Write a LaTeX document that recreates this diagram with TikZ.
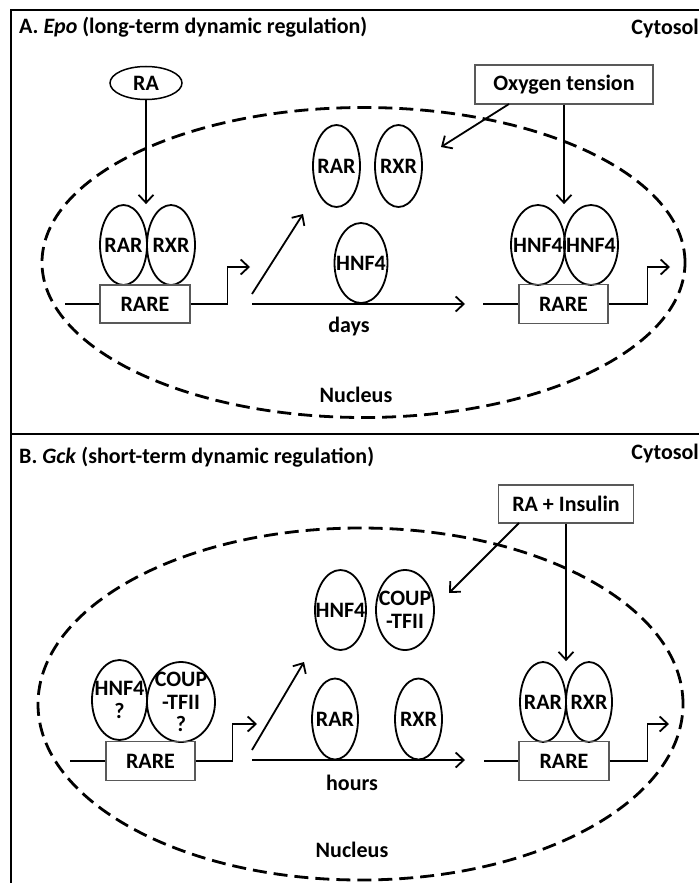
\documentclass[tikz,border=0pt]{standalone}
\usepackage{fontspec}
\setmainfont{Carlito}
\usetikzlibrary{shapes.geometric,arrows.meta}
\begin{document}
\begin{tikzpicture}[x=1pt,y=-1pt,
  font=\fontsize{22}{23}\selectfont\bfseries,
  prot/.style={ellipse, draw, line width=1.8pt, inner sep=0pt, minimum height=80pt, minimum width=#1},
  gene/.style={rectangle, draw=black!65, line width=1.1pt, inner sep=0pt, minimum width=90pt, minimum height=38pt},
  arr/.style={-{Straight Barb[length=8pt,width=15pt]}, line width=1.8pt},
  ln/.style={line width=1.8pt},
  nuc/.style={ellipse, draw, line width=2.8pt, dash pattern=on 14pt off 7pt, inner sep=0pt},
  frame/.style={line width=2.5pt},
  txt/.style={inner sep=0pt, align=center, font=\fontsize{22}{22.5}\selectfont\bfseries}]
\useasboundingbox (0,0) rectangle (699,883);
% frame
\draw[frame] (11,883) -- (11,10) -- (699,10);
\draw[frame] (11,434) -- (699,434);

% ---------- Panel A ----------
\node[anchor=base west, inner sep=0pt] (titleA) at (19,34) {A. \textit{Epo} (long-term dynamic regulation)};
\node[anchor=base east, inner sep=0pt] (cytA) at (699,35) {Cytosol};
\node[nuc, minimum width=643pt, minimum height=310pt] (nucA) at (363.5,262.5) {};
\node[txt] (nucAt) at (356,395) {Nucleus};

\node[ellipse, draw, line width=1.5pt, inner sep=0pt, minimum width=72pt, minimum height=33pt] (ra) at (146,83) {RA};
\node[prot=47pt] (rarA1) at (123.5,245) {};
\node[txt] (trarA1) at (rarA1) {RAR};
\node[prot=48pt] (rxrA1) at (171,245) {};
\node[txt] (trxrA1) at (rxrA1) {RXR};
\node[gene] (rareA1) at (145,304) {RARE};
\draw[arr] (ra.south) -- (ra.south |- rarA1.north);

\coordinate (lA0) at (65,304);
\coordinate (pA1) at (250,267);
\draw[ln] (lA0) -- (rareA1.west);
\draw[arr] (rareA1.east) -- ++(37,0) |- (pA1);

\coordinate (sA0) at (252,294);
\coordinate (sA1) at (303,214);
\draw[arr] (sA0) -- (sA1);
\coordinate (dA0) at (252,304);
\coordinate (dA1) at (465,304);
\draw[arr] (dA0) -- (dA1);
\node[txt] (daysA) at (349,327) {days};

\node[prot=47pt, minimum height=82pt] (rarA2) at (336.5,166) {};
\node[txt] (trarA2) at (rarA2) {RAR};
\node[prot=47pt, minimum height=82pt] (rxrA2) at (398.5,166) {};
\node[txt] (trxrA2) at (rxrA2) {RXR};
\node[prot=53pt] (hnfA0) at (361,263) {};
\node[txt] (thnfA0) at (hnfA0) {HNF4};

\node[gene, minimum width=178pt, minimum height=39pt] (oxy) at (564,84.5) {Oxygen tension};
\coordinate (oxd0) at (509,104);
\coordinate (oxd1) at (441,147);
\draw[arr] (oxd0) -- (oxd1);

\node[prot=54pt] (hnfA1) at (538,245) {};
\node[txt] (thnfA1) at (hnfA1) {HNF4};
\node[prot=54pt] (hnfA2) at (591,245) {};
\node[txt] (thnfA2) at (hnfA2) {HNF4};
\node[gene, minimum width=89pt, minimum height=39pt] (rareA2) at (563.5,304) {RARE};
\draw[arr] (oxy.south) -- (oxy.south |- hnfA1.north);
\coordinate (lA2) at (483,304);
\coordinate (pA2) at (670,267);
\draw[ln] (lA2) -- (rareA2.west);
\draw[arr] (rareA2.east) -- ++(39,0) |- (pA2);

% ---------- Panel B ----------
\node[anchor=base west, inner sep=0pt] (titleB) at (19,463) {B. \textit{Gck} (short-term dynamic regulation)};
\node[anchor=base east, inner sep=0pt] (cytB) at (699,459) {Cytosol};
\node[nuc, minimum width=645pt, minimum height=352pt] (nucB) at (360.5,704) {};
\node[txt] (nucBt) at (352,850) {Nucleus};

\node[prot=55pt] (hnfB1) at (119.5,700) {};
\node[txt] (thnfB1) at (hnfB1) {HNF4\\?};
\node[prot=68pt] (coupB1) at (181,702) {};
\node[txt] (tcoupB1) at (coupB1) {COUP\\-TFII\\?};
\node[gene, minimum width=89pt, minimum height=39pt] (rareB1) at (150.5,761) {RARE};
\coordinate (lB0) at (70,761);
\coordinate (pB1) at (257,724);
\draw[ln] (lB0) -- (rareB1.west);
\draw[arr] (rareB1.east) -- ++(37,0) |- (pB1);

\coordinate (sB0) at (252,750);
\coordinate (sB1) at (304,662);
\draw[arr] (sB0) -- (sB1);
\coordinate (dB0) at (252,760);
\coordinate (dB1) at (465,760);
\draw[arr] (dB0) -- (dB1);
\node[txt] (hoursB) at (352,783) {hours};

\node[prot=51pt] (hnfB0) at (340.5,610) {};
\node[txt] (thnfB0) at (hnfB0) {HNF4};
\node[prot=58pt] (coupB0) at (405,610) {};
\node[txt] (tcoupB0) at (coupB0) {COUP\\-TFII};
\node[prot=46pt, minimum height=81pt] (rarB0) at (335,719) {};
\node[txt] (trarB0) at (rarB0) {RAR};
\node[prot=47pt, minimum height=81pt] (rxrB0) at (418.5,719) {};
\node[txt] (trxrB0) at (rxrB0) {RXR};

\node[gene, minimum width=135pt, minimum height=38pt] (ins) at (566,504) {RA + Insulin};
\coordinate (ind0) at (519,523);
\coordinate (ind1) at (449,593);
\draw[arr] (ind0) -- (ind1);

\node[prot=46pt] (rarB2) at (543,702) {};
\node[txt] (trarB2) at (rarB2) {RAR};
\node[prot=46pt] (rxrB2) at (589,702) {};
\node[txt] (trxrB2) at (rxrB2) {RXR};
\node[gene, minimum width=90pt, minimum height=39pt] (rareB2) at (564,761) {RARE};
\draw[arr] (ins.south) -- (ins.south |- rarB2.north);
\coordinate (lB2) at (484,761);
\coordinate (pB2) at (669,724);
\draw[ln] (lB2) -- (rareB2.west);
\draw[arr] (rareB2.east) -- ++(38,0) |- (pB2);
\end{tikzpicture}
\end{document}
